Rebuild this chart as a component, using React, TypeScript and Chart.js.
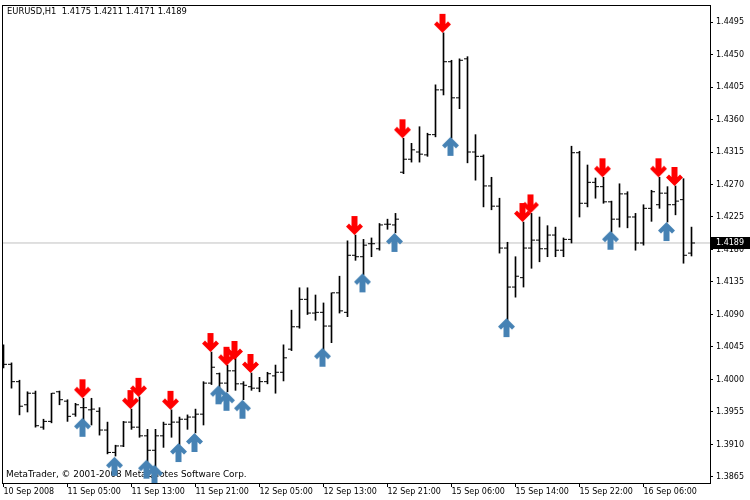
import React, { useEffect, useRef } from 'react';
import { Chart, registerables } from 'chart.js';

Chart.register(...registerables);

const symbol = 'EURUSD';
const timeframe = 'H1';
const copyright = 'MetaTrader, \u00A9 2001-2008 MetaQuotes Software Corp.';

const opens = [
  1.4038, 1.4021, 1.3997, 1.3965, 1.3981, 1.3934, 1.3942, 1.3983, 1.3970, 1.3952,
  1.3961, 1.3958, 1.3956, 1.3930, 1.3899, 1.3908, 1.3941, 1.3934, 1.3922, 1.3902,
  1.3922, 1.3938, 1.3941, 1.3945, 1.3948, 1.3952, 1.3995, 1.4008, 1.3995, 1.4012,
  1.3994, 1.3990, 1.3988, 1.3997, 1.4005, 1.4010, 1.4042, 1.4073, 1.4111, 1.4092,
  1.4093, 1.4074, 1.4120, 1.4093, 1.4172, 1.4170, 1.4188, 1.4181, 1.4215, 1.4214,
  1.4287, 1.4305, 1.4315, 1.4311, 1.4339, 1.4401, 1.4440, 1.4390, 1.4444, 1.4315,
  1.4309, 1.4268, 1.4240, 1.4182, 1.4128, 1.4141, 1.4182, 1.4193, 1.4181, 1.4200,
  1.4179, 1.4194, 1.4314, 1.4244, 1.4273, 1.4267, 1.4246, 1.4222, 1.4257, 1.4225,
  1.4189, 1.4237, 1.4242, 1.4258, 1.4242, 1.4249, 1.4175,
];
const highs = [
  1.4048, 1.4023, 1.3999, 1.3983, 1.3984, 1.3945, 1.3981, 1.3984, 1.3972, 1.3967,
  1.3974, 1.3974, 1.3961, 1.3941, 1.3909, 1.3942, 1.3959, 1.3976, 1.3931, 1.3931,
  1.3941, 1.3958, 1.3948, 1.3951, 1.3959, 1.3997, 1.4038, 1.4009, 1.4020, 1.4031,
  1.3997, 1.4009, 1.4003, 1.4010, 1.4020, 1.4048, 1.4096, 1.4127, 1.4127, 1.4117,
  1.4106, 1.4120, 1.4143, 1.4192, 1.4200, 1.4194, 1.4196, 1.4216, 1.4222, 1.4230,
  1.4334, 1.4327, 1.4350, 1.4341, 1.4408, 1.4480, 1.4442, 1.4444, 1.4447, 1.4339,
  1.4311, 1.4280, 1.4251, 1.4190, 1.4170, 1.4218, 1.4230, 1.4225, 1.4213, 1.4211,
  1.4196, 1.4323, 1.4316, 1.4297, 1.4279, 1.4280, 1.4247, 1.4271, 1.4260, 1.4230,
  1.4242, 1.4262, 1.4280, 1.4267, 1.4268, 1.4278, 1.4211,
];
const lows = [
  1.4016, 1.3988, 1.3951, 1.3955, 1.3934, 1.3931, 1.3940, 1.3965, 1.3942, 1.3949,
  1.3934, 1.3937, 1.3923, 1.3897, 1.3894, 1.3907, 1.3931, 1.3920, 1.3886, 1.3879,
  1.3906, 1.3920, 1.3909, 1.3931, 1.3926, 1.3937, 1.3993, 1.3983, 1.3983, 1.3985,
  1.3972, 1.3985, 1.3983, 1.3994, 1.3981, 1.3998, 1.4040, 1.4071, 1.4090, 1.4082,
  1.4041, 1.4051, 1.4092, 1.4087, 1.4165, 1.4145, 1.4170, 1.4179, 1.4208, 1.4203,
  1.4285, 1.4301, 1.4301, 1.4309, 1.4336, 1.4394, 1.4334, 1.4375, 1.4300, 1.4276,
  1.4239, 1.4235, 1.4175, 1.4071, 1.4114, 1.4128, 1.4154, 1.4163, 1.4170, 1.4170,
  1.4170, 1.4189, 1.4225, 1.4239, 1.4251, 1.4244, 1.4204, 1.4211, 1.4210, 1.4179,
  1.4186, 1.4219, 1.4237, 1.4218, 1.4228, 1.4161, 1.4171,
];
const closes = [
  1.4021, 1.3997, 1.3963, 1.3981, 1.3936, 1.3942, 1.3981, 1.3972, 1.3949, 1.3965,
  1.3961, 1.3959, 1.3930, 1.3899, 1.3908, 1.3941, 1.3934, 1.3922, 1.3902, 1.3922,
  1.3938, 1.3941, 1.3945, 1.3948, 1.3952, 1.3995, 1.4017, 1.3995, 1.4012, 1.3994,
  1.3992, 1.3988, 1.3997, 1.4008, 1.4010, 1.4030, 1.4073, 1.4111, 1.4092, 1.4093,
  1.4074, 1.4120, 1.4095, 1.4172, 1.4170, 1.4186, 1.4188, 1.4214, 1.4215, 1.4222,
  1.4305, 1.4318, 1.4312, 1.4339, 1.4401, 1.4440, 1.4390, 1.4442, 1.4315, 1.4309,
  1.4268, 1.4240, 1.4182, 1.4128, 1.4143, 1.4182, 1.4193, 1.4181, 1.4200, 1.4179,
  1.4194, 1.4314, 1.4244, 1.4273, 1.4267, 1.4246, 1.4222, 1.4257, 1.4225, 1.4189,
  1.4237, 1.4260, 1.4258, 1.4242, 1.4247, 1.4172, 1.4189,
];

const downArrowBars = [10, 16, 17, 21, 26, 28, 29, 31, 44, 50, 55, 65, 66, 75, 82, 84];
const downArrowPrices = [
  1.3974, 1.3959, 1.3976, 1.3958, 1.4038, 1.4019, 1.4027, 1.4009,
  1.4200, 1.4334, 1.4480, 1.4218, 1.4230, 1.4280, 1.4280, 1.4268,
];
const upArrowBars = [10, 14, 18, 19, 22, 24, 27, 28, 30, 40, 45, 49, 56, 63, 76, 83];
const upArrowPrices = [
  1.3947, 1.3893, 1.3889, 1.3882, 1.3912, 1.3926, 1.3992, 1.3983,
  1.3972, 1.4044, 1.4147, 1.4203, 1.4336, 1.4085, 1.4206, 1.4218,
];

const xTickLabels = [
  '10 Sep 2008', '11 Sep 05:00', '11 Sep 13:00', '11 Sep 21:00', '12 Sep 05:00',
  '12 Sep 13:00', '12 Sep 21:00', '15 Sep 06:00', '15 Sep 14:00', '15 Sep 22:00',
  '16 Sep 06:00',
];
const barsPerLabel = 8;
const yTickValues = [
  1.3865, 1.3910, 1.3955, 1.4000, 1.4045, 1.4090, 1.4135, 1.4180,
  1.4225, 1.4270, 1.4315, 1.4360, 1.4405, 1.4450, 1.4495,
];

const X_MIN = -0.1875;
const X_MAX = 88.3125;
const Y_MIN = 1.385669;
const Y_MAX = 1.451854;

const FONT = '"DejaVu Sans", sans-serif';
const RED = '#FF0000';
const STEEL = '#4682B4';

function arrowImage(dir: 'up' | 'down', color: string) {
  const c = document.createElement('canvas');
  c.width = 19;
  c.height = 42;
  const ctx = c.getContext('2d')!;
  const cx = 8.5;
  const tip = 21;
  const h = 19;
  const s = dir === 'down' ? -1 : 1;
  const pts = [
    [0, 0], [8.5, 8.5], [5.5, 11.5], [3, 9], [3, h],
    [-3, h], [-3, 9], [-5.5, 11.5], [-8.5, 8.5],
  ];
  ctx.beginPath();
  pts.forEach(([x, y], k) => {
    const px = cx + x;
    const py = tip + s * y;
    if (k === 0) ctx.moveTo(px, py);
    else ctx.lineTo(px, py);
  });
  ctx.closePath();
  ctx.fillStyle = color;
  ctx.fill();
  return c;
}

export default function App() {
  const ref = useRef<HTMLCanvasElement>(null);

  useEffect(() => {
    document.body.style.margin = '0';
    const canvas = ref.current!;
    const n = closes.length;
    const lastClose = closes[n - 1];
    const title = `${symbol},${timeframe}  ${opens[n - 1].toFixed(4)} ${highs[n - 1].toFixed(4)} ${lows[n - 1].toFixed(4)} ${closes[n - 1].toFixed(4)}`;

    const mtPlugin = {
      id: 'mtDecor',
      beforeDatasetsDraw(chart: any) {
        const { ctx, chartArea: a } = chart;
        ctx.save();
        ctx.fillStyle = '#000';
        ctx.textBaseline = 'middle';
        ctx.textAlign = 'left';
        ctx.font = `8.4px ${FONT}`;
        ctx.fillText(title, a.left + 5, a.top + 6.5);
        ctx.font = `8.9px ${FONT}`;
        ctx.fillText(copyright, a.left + 4, a.bottom - 8.5);
        ctx.restore();
      },
      afterDraw(chart: any) {
        const { ctx, chartArea: a } = chart;
        const yScale = chart.scales.y;
        ctx.save();
        ctx.strokeStyle = '#000';
        ctx.lineWidth = 1;
        ctx.strokeRect(a.left + 0.5, a.top + 0.5, a.right - a.left, a.bottom - a.top);
        const y = Math.round(yScale.getPixelForValue(lastClose));
        ctx.fillStyle = '#000';
        ctx.fillRect(a.right + 1, y - 6, 40, 12);
        ctx.fillStyle = '#fff';
        ctx.font = `8px ${FONT}`;
        ctx.textBaseline = 'middle';
        ctx.textAlign = 'left';
        ctx.fillText(lastClose.toFixed(4), a.right + 6, y);
        ctx.restore();
      },
    };

    const chart = new Chart(canvas, {
      type: 'bar',
      data: {
        datasets: [
          {
            type: 'scatter',
            label: 'sell',
            data: downArrowBars.map((b, k) => ({ x: b, y: downArrowPrices[k] })),
            pointStyle: arrowImage('down', RED),
            pointRadius: 9,
            order: 0,
          } as any,
          {
            type: 'scatter',
            label: 'buy',
            data: upArrowBars.map((b, k) => ({ x: b, y: upArrowPrices[k] })),
            pointStyle: arrowImage('up', STEEL),
            pointRadius: 9,
            order: 0,
          } as any,
          {
            type: 'scatter',
            label: 'open',
            data: opens.map((v, i) => ({ x: i - 0.25, y: v })),
            pointStyle: 'line',
            pointRadius: 1.5,
            pointBorderWidth: 1,
            pointBorderColor: '#000',
            borderColor: '#000',
            order: 1,
          } as any,
          {
            type: 'scatter',
            label: 'close',
            data: closes.map((v, i) => ({ x: i + 0.25, y: v })),
            pointStyle: 'line',
            pointRadius: 1.5,
            pointBorderWidth: 1,
            pointBorderColor: '#000',
            borderColor: '#000',
            order: 1,
          } as any,
          {
            type: 'bar',
            label: 'range',
            data: highs.map((h, i) => ({ x: i, y: [lows[i], h] })),
            backgroundColor: '#000',
            borderWidth: 0,
            barThickness: 1,
            grouped: false,
            order: 2,
          } as any,
          {
            type: 'line',
            label: 'bid',
            data: [{ x: X_MIN, y: lastClose }, { x: X_MAX, y: lastClose }],
            borderColor: '#C0C0C0',
            borderWidth: 1,
            pointRadius: 0,
            order: 3,
          } as any,
        ],
      },
      options: {
        responsive: false,
        animation: false,
        devicePixelRatio: 1,
        events: [],
        layout: { autoPadding: false, padding: { left: 2, top: 5, right: 0, bottom: 0 } },
        plugins: {
          legend: { display: false },
          tooltip: { enabled: false },
          title: { display: false },
        },
        scales: {
          x: {
            type: 'linear',
            min: X_MIN,
            max: X_MAX,
            offset: false,
            grid: { display: true, drawOnChartArea: false, drawTicks: true, tickLength: 4, color: '#000', offset: false },
            border: { display: false },
            ticks: {
              autoSkip: false,
              maxRotation: 0,
              minRotation: 0,
              align: 'start',
              padding: 0,
              color: '#000',
              font: { family: FONT, size: 8 },
              callback: (_v: any, i: number) => xTickLabels[i],
            },
            afterBuildTicks: (s: any) => {
              s.ticks = xTickLabels.map((_, k) => ({ value: k * barsPerLabel }));
            },
            afterFit: (s: any) => {
              s.height = 17;
              s.paddingLeft = 0;
              s.paddingRight = 0;
            },
          },
          y: {
            type: 'linear',
            position: 'right',
            min: Y_MIN,
            max: Y_MAX,
            beginAtZero: false,
            grid: { drawOnChartArea: false, drawTicks: true, tickLength: 3, color: '#000' },
            border: { display: false },
            ticks: {
              padding: 3,
              color: '#000',
              font: { family: FONT, size: 8 },
              callback: (v: any) => Number(v).toFixed(4),
            },
            afterBuildTicks: (s: any) => {
              s.ticks = yTickValues.map((v) => ({ value: v }));
            },
            afterFit: (s: any) => {
              s.width = 40;
              s.paddingTop = 0;
              s.paddingBottom = 0;
            },
          },
        },
      } as any,
      plugins: [mtPlugin],
    });

    return () => chart.destroy();
  }, []);

  return (
    <div style={{ width: 750, height: 500 }}>
      <canvas ref={ref} width={750} height={500} style={{ display: 'block', width: 750, height: 500 }} />
    </div>
  );
}
